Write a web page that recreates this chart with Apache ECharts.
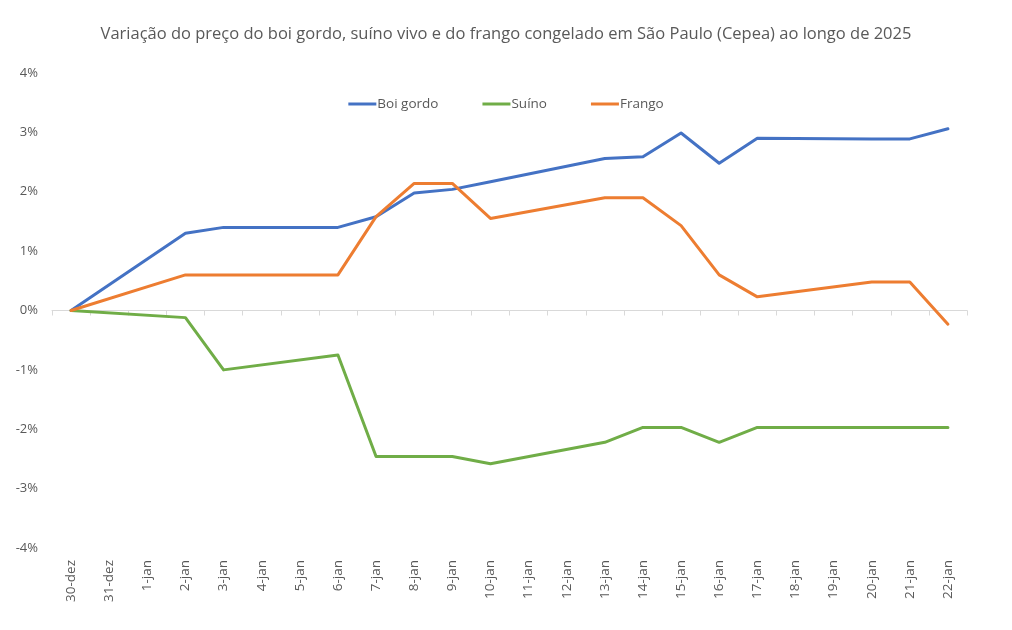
<!DOCTYPE html>
<html>
<head>
<meta charset="utf-8">
<script src="https://cdn.jsdelivr.net/npm/echarts@6/dist/echarts.min.js"></script>
<style>
  html, body { margin: 0; padding: 0; background: #fff; }
  #chart { width: 1012px; height: 630px; }
</style>
</head>
<body>
<div id="chart"></div>
<script>
  // Dias sem cotação (fim de semana / feriado) ficam como null e a linha liga os pontos
  const categorias = ['30-dez', '31-dez', '1-jan', '2-jan', '3-jan', '4-jan', '5-jan', '6-jan', '7-jan', '8-jan',
    '9-jan', '10-jan', '11-jan', '12-jan', '13-jan', '14-jan', '15-jan', '16-jan', '17-jan', '18-jan',
    '19-jan', '20-jan', '21-jan', '22-jan'];

  const boiGordo = [0, null, null, 1.30, 1.40, null, null, 1.40, 1.58, 1.98,
    2.04, 2.17, null, null, 2.56, 2.59, 2.99, 2.48, 2.90, null,
    null, 2.89, 2.89, 3.06];

  const suino = [0, null, null, -0.12, -1.00, null, null, -0.75, -2.46, -2.46,
    -2.46, -2.58, null, null, -2.22, -1.97, -1.97, -2.22, -1.97, null,
    null, -1.97, -1.97, -1.97];

  const frango = [0, null, null, 0.60, 0.60, null, null, 0.60, 1.58, 2.14,
    2.14, 1.55, null, null, 1.90, 1.90, 1.43, 0.60, 0.23, null,
    null, 0.48, 0.48, -0.23];

  const yTicks = { min: -4, max: 4, interval: 1 };

  const chart = echarts.init(document.getElementById('chart'));
  const fonte = 'Open Sans, sans-serif';
  const cinza = '#595959';

  const linha = (name, data, color) => ({
    name,
    type: 'line',
    data,
    connectNulls: true,
    showSymbol: false,
    symbol: 'none',
    xAxisIndex: 0,
    lineStyle: { width: 3, color, cap: 'round', join: 'round' },
    itemStyle: { color },
    animation: false
  });

  chart.setOption({
    backgroundColor: '#fff',
    title: {
      text: 'Variação do preço do boi gordo, suíno vivo e do frango congelado em São Paulo (Cepea) ao longo de 2025',
      left: 'center',
      top: 21,
      textStyle: { fontFamily: fonte, fontSize: 16.5, fontWeight: 'normal', color: cinza }
    },
    legend: {
      top: 92,
      left: 'center',
      itemWidth: 28,
      itemHeight: 3,
      itemGap: 44,
      icon: 'rect',
      textStyle: { fontFamily: fonte, fontSize: 13.5, color: cinza, padding: [0, 0, 0, -4] },
      data: ['Boi gordo', 'Suíno', 'Frango']
    },
    grid: { left: 52, right: 45, top: 73, bottom: 82 },
    xAxis: [
      {
        type: 'category',
        data: categorias,
        position: 'bottom',
        boundaryGap: true,
        axisLine: { show: false, onZero: false },
        axisTick: { show: false },
        axisLabel: {
          rotate: 90,
          margin: 12,
          interval: 0,
          fontFamily: fonte,
          fontSize: 13.5,
          color: cinza
        }
      },
      {
        type: 'category',
        data: categorias,
        position: 'bottom',
        boundaryGap: true,
        axisLine: { show: true, onZero: true, lineStyle: { color: '#d9d9d9', width: 1 } },
        axisTick: { show: true, length: 5, interval: 0, lineStyle: { color: '#d9d9d9' } },
        axisLabel: { show: false }
      }
    ],
    yAxis: {
      type: 'value',
      min: yTicks.min,
      max: yTicks.max,
      interval: yTicks.interval,
      axisLine: { show: false },
      axisTick: { show: false },
      splitLine: { show: false },
      axisLabel: {
        formatter: '{value}%',
        margin: 14,
        fontFamily: fonte,
        fontSize: 13,
        color: cinza
      }
    },
    series: [
      linha('Boi gordo', boiGordo, '#4472C4'),
      linha('Suíno', suino, '#70AD47'),
      linha('Frango', frango, '#ED7D31')
    ]
  });
</script>
</body>
</html>
